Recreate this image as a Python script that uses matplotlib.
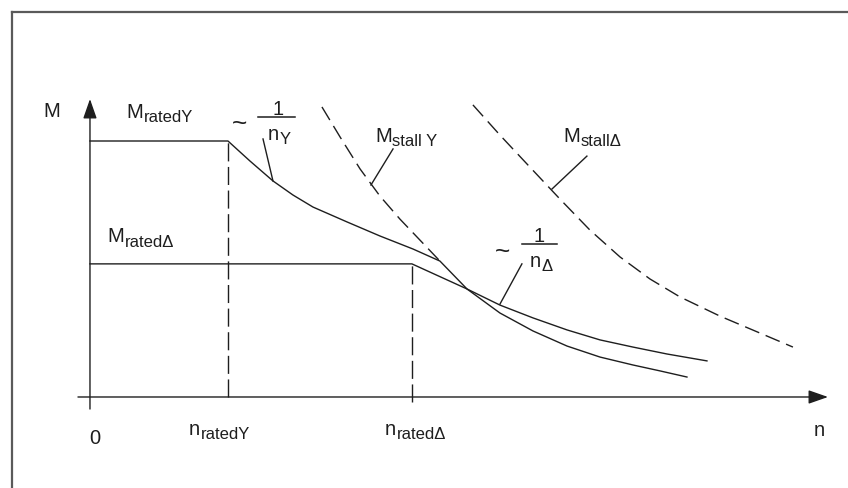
import matplotlib
matplotlib.use("Agg")
import matplotlib.pyplot as plt
from matplotlib.lines import Line2D

plt.rcParams['font.family'] = ['Liberation Sans', 'DejaVu Sans']

# ---------------- data (n: speed units, M: torque units) ----------------
n_rated_Y = 1.0
n_rated_D = 2.333
M_rated_Y = 1.0
M_rated_D = 0.52

# torque characteristic, star connection (rated torque, then ~1/n, then stall limit)
curveY_n = [0.0, 1.0, 1.159, 1.326, 1.471, 1.616, 1.862, 2.101, 2.341, 2.536,
            2.732, 2.971, 3.210, 3.457, 3.696, 3.935, 4.130, 4.326]
curveY_M = [1.0, 1.0, 0.922, 0.844, 0.789, 0.742, 0.684, 0.629, 0.578, 0.531,
            0.422, 0.328, 0.258, 0.199, 0.156, 0.125, 0.102, 0.078]

# torque characteristic, delta connection
curveD_n = [0.0, 2.333, 2.732, 2.971, 3.210, 3.457, 3.696, 3.935, 4.181, 4.471]
curveD_M = [0.52, 0.52, 0.422, 0.359, 0.309, 0.262, 0.223, 0.195, 0.168, 0.141]

# stall torque, star (dashed, until it meets the star curve)
stallY_n = [1.681, 1.812, 1.957, 2.101, 2.246, 2.391, 2.536]
stallY_M = [1.133, 1.016, 0.891, 0.785, 0.695, 0.613, 0.531]

# stall torque, delta (dashed)
stallD_n = [2.775, 2.971, 3.188, 3.406, 3.623, 3.841, 4.058, 4.275, 4.565, 4.819, 5.094]
stallD_M = [1.141, 1.023, 0.898, 0.773, 0.652, 0.547, 0.461, 0.391, 0.316, 0.258, 0.195]

# ---------------- figure ----------------
fig = plt.figure(figsize=(8.48, 4.89), dpi=100)
ax = fig.add_axes([0, 0, 1, 1])
ax.set_xlim(-0.652, 5.493)
ax.set_ylim(-0.3555, 1.5547)
ax.axis('off')

LC = '#1e1e1e'
TC = '#1e1e1e'
LW = 1.0

# outer frame
fig.add_artist(Line2D([12/848, 12/848], [0, 1 - 13/489], transform=fig.transFigure,
                      color='#5a5a5a', lw=1.6))
fig.add_artist(Line2D([12/848, 1], [1 - 13/489, 1 - 13/489], transform=fig.transFigure,
                      color='#5a5a5a', lw=1.6))

# axes with arrows
ax.annotate('', xy=(0, 1.164), xytext=(0, -0.047),
            arrowprops=dict(arrowstyle='-|>,head_length=1.2,head_width=0.42', mutation_scale=10,
                            lw=LW, color=LC, shrinkA=0, shrinkB=0))
ax.annotate('', xy=(5.348, 0), xytext=(-0.087, 0),
            arrowprops=dict(arrowstyle='-|>,head_length=1.2,head_width=0.42', mutation_scale=10,
                            lw=LW, color=LC, shrinkA=0, shrinkB=0))

# curves
ax.plot(curveY_n, curveY_M, color=LC, lw=LW, solid_joinstyle='round')
ax.plot(curveD_n, curveD_M, color=LC, lw=LW, solid_joinstyle='round')
ax.plot(stallY_n, stallY_M, color=LC, lw=LW, dashes=(11, 5))
ax.plot(stallD_n, stallD_M, color=LC, lw=LW, dashes=(11, 5))

# vertical dashed lines at rated speeds
ax.plot([n_rated_Y, n_rated_Y], [0, M_rated_Y], color=LC, lw=LW, dashes=(13, 4))
ax.plot([n_rated_D, n_rated_D], [-0.02, M_rated_D], color=LC, lw=LW, dashes=(13, 4))

# leader lines
ax.plot([1.254, 1.326], [1.008, 0.844], color=LC, lw=LW)
ax.plot([2.196, 2.036], [0.969, 0.828], color=LC, lw=LW)
ax.plot([3.601, 3.348], [0.941, 0.8125], color=LC, lw=LW)
ax.plot([3.130, 2.971], [0.520, 0.363], color=LC, lw=LW)

FS = 14.5
FSS = 12


def label(x, y, main, sub=None, ha='left'):
    t = ax.text(x, y, main, fontsize=FS, color=TC, ha=ha, va='baseline')
    if sub:
        ax.annotate(sub, xy=(1, y), xycoords=(t, 'data'), xytext=(0.5, -3.2),
                    textcoords='offset points', fontsize=FSS, color=TC,
                    ha='left', va='baseline')
    return t


label(-0.335, 1.098, 'M')
label(0.261, 1.094, 'M', 'ratedY')
label(0.123, 0.609, 'M', 'rated\u0394')
label(2.065, 1.0, 'M', 'stall Y')
label(3.428, 1.0, 'M', 'stall\u0394')

# ~ 1/nY
ax.text(1.087, 1.043, '~', fontsize=19, color=TC, ha='center', va='baseline')
ax.plot([1.217, 1.486], [1.094, 1.094], color=TC, lw=1.1)
ax.text(1.36, 1.105, '1', fontsize=FS, color=TC, ha='center', va='baseline')
label(1.290, 1.008, 'n', 'Y')

# ~ 1/nΔ
ax.text(2.99, 0.543, '~', fontsize=19, color=TC, ha='center', va='baseline')
ax.plot([3.130, 3.384], [0.598, 0.598], color=TC, lw=1.1)
ax.text(3.254, 0.609, '1', fontsize=FS, color=TC, ha='center', va='baseline')
label(3.188, 0.512, 'n', '\u0394')

# bottom labels
ax.text(0.036, -0.18, '0', fontsize=FS, color=TC, ha='center', va='baseline')
label(0.717, -0.1445, 'n', 'ratedY')
label(2.138, -0.1445, 'n', 'rated\u0394')
ax.text(5.283, -0.150, 'n', fontsize=FS, color=TC, ha='center', va='baseline')

fig.savefig('out.png', dpi=100, facecolor='white')
